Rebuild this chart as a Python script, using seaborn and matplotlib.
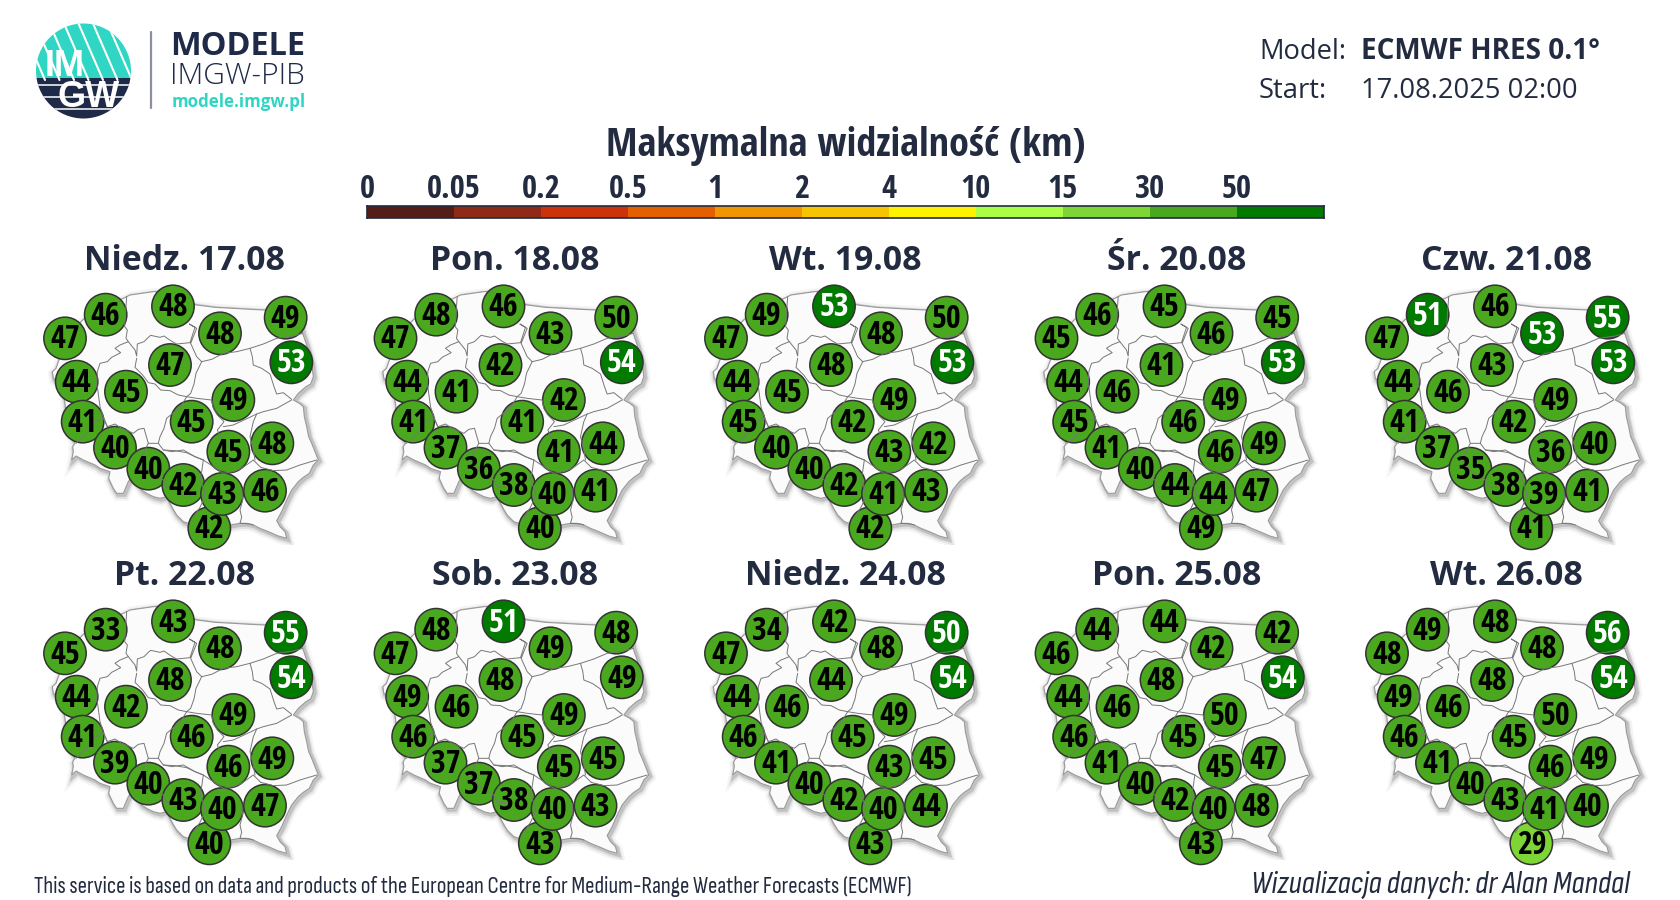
import numpy as np
import pandas as pd
import seaborn as sns
import matplotlib.pyplot as plt
import matplotlib.patheffects as pe
from matplotlib.colors import ListedColormap
from matplotlib.patches import Circle, Rectangle

INK = '#222b3f'
TEAL = '#2fd6c3'
NAVY = '#1f2a48'
NARROW = ['Open Sans Condensed', 'Fira Sans Condensed', 'Roboto Condensed', 'Open Sans', 'DejaVu Sans']
NARROW_LIGHT = ['Open Sans Condensed Light', 'Sofia Sans Condensed', 'Roboto Condensed', 'Open Sans', 'DejaVu Sans']

LEVELS = ['0', '0.05', '0.2', '0.5', '1', '2', '4', '10', '15', '30', '50']
LEVEL_EDGES = [0, 0.05, 0.2, 0.5, 1, 2, 4, 10, 15, 30, 50, 1000]
LEVEL_COLORS = ['#541d17', '#8e2a15', '#cc330c', '#e35f00', '#ef9600', '#f6c400',
                '#fff200', '#aaff44', '#7ed636', '#4aa81e', '#007b00']

DAYS = ['Niedz. 17.08', 'Pon. 18.08', 'Wt. 19.08', 'Śr. 20.08', 'Czw. 21.08',
        'Pt. 22.08', 'Sob. 23.08', 'Niedz. 24.08', 'Pon. 25.08', 'Wt. 26.08']

# region centres, map units
region_x = [135, 257, 459, 600, 797, 814, 450, 170, 318, 188, 285, 385, 490, 568, 606, 735, 625, 757, 640, 515]
region_y = [325, 254, 229, 310, 263, 397, 405, 455, 485, 575, 653, 716, 765, 895, 792, 782, 665, 640, 510, 575]

# labels are rounded, a printed 50 can sit either side of the 50 km colour step
vis_17 = [47, 46, 48, 48, 49, 53, 47, 44, 45, 41, 40, 40, 42, 42, 43, 46, 45, 48, 49, 45]
vis_18 = [47, 48, 46, 43, 49.6, 54, 42, 44, 41, 41, 37, 36, 38, 40, 40, 41, 41, 44, 42, 41]
vis_19 = [47, 49, 53, 48, 49.6, 53, 48, 44, 45, 45, 40, 40, 42, 42, 41, 43, 43, 42, 49, 42]
vis_20 = [45, 46, 45, 46, 45, 53, 41, 44, 46, 45, 41, 40, 44, 49, 44, 47, 46, 49, 49, 46]
vis_21 = [47, 51, 46, 53, 55, 53, 43, 44, 46, 41, 37, 35, 38, 41, 39, 41, 36, 40, 49, 42]
vis_22 = [45, 33, 43, 48, 55, 54, 48, 44, 42, 41, 39, 40, 43, 40, 40, 47, 46, 49, 49, 46]
vis_23 = [47, 48, 51, 49, 48, 49, 48, 49, 46, 46, 37, 37, 38, 43, 40, 43, 45, 45, 49, 45]
vis_24 = [47, 34, 42, 48, 50.4, 54, 44, 44, 46, 46, 41, 40, 42, 43, 40, 44, 43, 45, 49, 45]
vis_25 = [46, 44, 44, 42, 42, 54, 48, 44, 46, 46, 41, 40, 42, 43, 40, 48, 45, 47, 49.8, 45]
vis_26 = [48, 49, 48, 48, 56, 54, 48, 49, 46, 46, 41, 40, 43, 29, 41, 40, 46, 49, 49.8, 45]
all_days = [vis_17, vis_18, vis_19, vis_20, vis_21, vis_22, vis_23, vis_24, vis_25, vis_26]

# country outline and voivodeship borders, map units
outline_x = [190, 215, 250, 285, 310, 330, 365, 400, 440, 465, 500, 530, 585, 640, 690, 735, 770, 800, 838, 848,
             860, 875, 880, 872, 858, 835, 820, 838, 850, 853, 860, 866, 875, 885, 895, 880, 868, 850, 835, 815,
             800, 785, 770, 780, 795, 800, 775, 745, 720, 700, 680, 660, 630, 600, 570, 530, 505, 490, 470, 458,
             440, 420, 400, 380, 365, 335, 325, 310, 290, 280, 266, 270, 240, 225, 190, 168, 155, 160, 158, 165,
             150, 140, 135, 128, 115, 100, 97, 108, 115, 125, 135]
outline_y = [268, 255, 240, 215, 205, 195, 190, 185, 183, 200, 218, 225, 232, 235, 238, 240, 243, 250, 262, 310,
             345, 400, 440, 462, 470, 490, 510, 520, 530, 560, 590, 620, 640, 665, 690, 705, 730, 742, 755, 780,
             810, 845, 872, 890, 905, 925, 918, 905, 895, 885, 880, 880, 885, 900, 950, 900, 880, 875, 855, 835,
             800, 805, 800, 790, 780, 740, 755, 790, 790, 775, 745, 725, 715, 705, 690, 678, 690, 665, 650, 640,
             610, 570, 520, 480, 455, 445, 425, 415, 395, 370, 325]

borders = [
    ([320, 314, 322, 318, 325, 300, 285, 302, 275, 262, 240, 232, 230], [200, 290, 300, 325, 335, 345, 355, 368, 382, 395, 400, 425, 470]),
    ([325, 345, 350, 352, 372, 385, 392, 420, 432, 452, 470, 510, 525, 508, 530, 512, 530, 545],
     [335, 360, 378, 342, 335, 322, 316, 322, 318, 332, 342, 338, 292, 282, 295, 340, 380, 395]),
    ([545, 575, 610, 650, 690, 730, 770, 820, 848], [395, 388, 370, 365, 355, 342, 325, 318, 310]),
    ([690, 697, 700, 725, 750, 762, 770, 790, 815], [355, 380, 405, 415, 432, 470, 492, 488, 508]),
    ([350, 345, 368, 385, 405, 422, 450, 475, 500], [385, 412, 435, 458, 462, 480, 482, 495, 500]),
    ([545, 528, 522, 512, 500], [395, 430, 462, 490, 500]),
    ([500, 530, 575, 580, 592, 612, 592, 604], [500, 505, 510, 535, 555, 575, 600, 625]),
    ([500, 485, 470, 440, 432, 420, 415, 430, 465, 500, 525, 550], [500, 525, 540, 565, 595, 620, 640, 660, 662, 668, 680, 690]),
    ([232, 240, 248, 262, 285, 300, 340, 355, 372, 385, 415], [470, 530, 555, 590, 582, 592, 610, 598, 595, 640, 640]),
    ([168, 200, 225, 250, 262], [640, 610, 575, 565, 590]),
    ([385, 372, 360, 375, 385, 430, 440, 470], [640, 665, 690, 710, 722, 750, 772, 772]),
    ([430, 455, 490, 525, 550, 545, 540, 555, 550, 540, 520], [660, 665, 660, 680, 690, 725, 745, 790, 810, 832, 862]),
    ([550, 580, 610, 640, 665, 700, 722], [690, 710, 730, 725, 715, 690, 712]),
    ([610, 640, 672, 710, 730, 770, 815], [590, 585, 570, 552, 545, 535, 510]),
    ([710, 700, 690, 700, 705], [552, 575, 620, 660, 690]),
    ([722, 760, 800, 840, 890], [712, 722, 720, 705, 690]),
    ([665, 668, 660, 665, 660, 690, 700], [775, 810, 840, 862, 880, 882, 885]),
]

MAP_SHADOW = [pe.Stroke(linewidth=8, foreground='#555555', alpha=0.06, offset=(1, -1.5)),
              pe.Stroke(linewidth=5, foreground='#555555', alpha=0.12, offset=(1, -1.5)),
              pe.Stroke(linewidth=3, foreground='#444444', alpha=0.2, offset=(1, -1)),
              pe.Normal()]


def px_axes(fig, x, y, w, h):
    return fig.add_axes([x / 1680, 1 - (y + h) / 900, w / 1680, h / 900])


def draw_logo(ax):
    disc = Circle((83.5, 71), 47.5, transform=ax.transData)
    top = Rectangle((30, 20), 110, 58, color=TEAL, lw=0)
    bottom = Rectangle((30, 78), 110, 45, color=NAVY, lw=0)
    for patch in (top, bottom):
        ax.add_patch(patch)
        patch.set_clip_path(disc)
    for start in np.arange(-10, 150, 14.5):
        line, = ax.plot([start, start + 26], [20, 80], color='white', lw=1.5)
        line.set_clip_path(disc)
    for y in [85, 97, 109]:
        line, = ax.plot([30, 140], [y, y], color='white', lw=1.1)
        line.set_clip_path(disc)
    ax.text(64.5, 76, 'IM', color='white', fontsize=26, fontweight='bold', ha='center', va='baseline', family='Liberation Sans')
    ax.text(88.5, 107, 'GW', color='white', fontsize=26, fontweight='bold', ha='center', va='baseline', family='Liberation Sans')
    ax.plot([151, 151], [32, 108], color='#8a8fa3', lw=1.6)
    ax.text(170, 55, 'MODELE', color=NAVY, fontsize=23.4, fontweight='bold', va='baseline')
    ax.text(170, 84, 'IMGW-PIB', color=NAVY, fontsize=21.5, fontweight=300, va='baseline')
    ax.text(172, 107, 'modele.imgw.pl', color=TEAL, fontsize=12.2, fontweight='bold', va='baseline')


def main():
    sns.set_theme(style='white')
    plt.rcParams['font.family'] = ['Open Sans', 'DejaVu Sans']

    fig = plt.figure(figsize=(16.8, 9), dpi=100, facecolor='white')

    page = fig.add_axes([0, 0, 1, 1])
    page.set_xlim(0, 1680)
    page.set_ylim(900, 0)
    page.axis('off')

    draw_logo(page)

    page.text(1259, 59, 'Model:', color=INK, fontsize=19.7, va='baseline')
    page.text(1361, 59, 'ECMWF HRES 0.1°', color=INK, fontsize=20.1, fontweight='bold', va='baseline')
    page.text(1259, 98, 'Start:', color=INK, fontsize=19.7, va='baseline')
    page.text(1361, 98, '17.08.2025 02:00', color=INK, fontsize=19.7, va='baseline')

    page.text(846, 156, 'Maksymalna widzialność (km)', color=INK, fontsize=29, fontweight='bold',
              ha='center', va='baseline', family=NARROW)
    page.text(34, 893, 'This service is based on data and products of the European Centre for Medium-Range Weather Forecasts (ECMWF)',
              color=INK, fontsize=16.65, va='baseline', family=NARROW_LIGHT)
    page.text(1630, 893, 'Wizualizacja danych: dr Alan Mandal', color=INK, fontsize=23, style='italic',
              ha='right', va='baseline', family=NARROW_LIGHT)

    # colour scale
    cax = px_axes(fig, 367, 206, 957, 12)
    sns.heatmap(np.arange(len(LEVEL_COLORS)).reshape(1, -1), cmap=ListedColormap(LEVEL_COLORS),
                cbar=False, xticklabels=False, yticklabels=False, ax=cax)
    cax.tick_params(axis='x', top=False, bottom=False, labeltop=True, labelbottom=False, length=0, pad=0)
    cax.set_xticks(range(len(LEVELS)))
    cax.set_xticklabels(LEVELS, rotation=0, fontsize=23.5, fontweight='bold', color=INK, family=NARROW)
    for spine in cax.spines.values():
        spine.set_visible(True)
        spine.set_color(INK)
        spine.set_linewidth(1.2)

    for i, (day, values) in enumerate(zip(DAYS, all_days)):
        row, col = divmod(i, 5)
        ax = px_axes(fig, 20 + 330.5 * col, 230 + 315 * row, 330.5, 315)
        ax.patch.set_alpha(0)

        ax.fill(outline_x, outline_y, facecolor='#fbfbfb', edgecolor='#9a9a9a', lw=0.8,
                path_effects=MAP_SHADOW)
        for bx, by in borders:
            ax.plot(bx, by, color='#777777', lw=0.7)

        df = pd.DataFrame({'x': region_x, 'y': region_y, 'vis': values})
        df['bin'] = pd.cut(df['vis'], LEVEL_EDGES, labels=LEVEL_COLORS, right=False).astype(str)
        sns.scatterplot(data=df, x='x', y='y', hue='bin', palette={c: c for c in LEVEL_COLORS},
                        s=930, edgecolor='#333333', linewidth=1.1, legend=False, clip_on=False, ax=ax)
        for x, y, v in zip(df['x'], df['y'], df['vis']):
            ax.text(x, y + 5, f'{v:.0f}', color='white' if v >= 50 else 'black', fontsize=23, fontweight='bold',
                    ha='center', va='center', family=NARROW)

        ax.text(494, 120, day, color=INK, fontsize=24.4, fontweight='bold', ha='center', va='baseline',
                clip_on=False)
        ax.set_xlim(0, 991.5)
        ax.set_ylim(945, 0)
        ax.axis('off')

    fig.savefig('out.png', dpi=100)


if __name__ == '__main__':
    main()
